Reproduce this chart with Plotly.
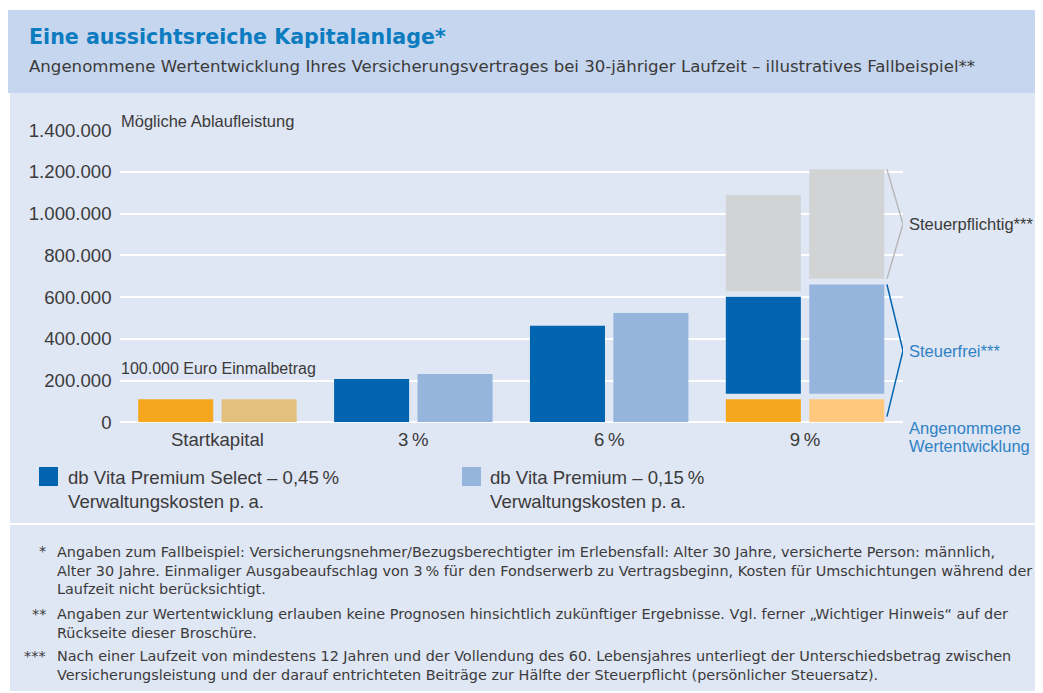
import plotly.graph_objects as go

# page is rendered with an 8px body margin -> figure is shifted by 8px
W, H = 1043, 693
OFF = 8
FW, FH = W - OFF, H - OFF

# ---------------- data ----------------
categories = ["Startkapital", "3\u2009%", "6\u2009%", "9\u2009%"]
einmalbetrag = [110000, 0, 0, 110000]            # orange start-capital segment
select_steuerfrei = [0, 207000, 462000, 601000]   # top of blue segment
select_ablauf = [0, 207000, 462000, 1088000]      # total (top of grey segment)
premium_steuerfrei = [0, 231000, 523000, 660000]
premium_ablauf = [0, 231000, 523000, 1212000]
y_ticks = [0, 200000, 400000, 600000, 800000, 1000000, 1200000, 1400000]

series_names = [
    "db Vita Premium Select \u2013 0,45\u2009%<br>Verwaltungskosten p.\u2009a.",
    "db Vita Premium \u2013 0,15\u2009%<br>Verwaltungskosten p.\u2009a.",
]

# ---------------- style ----------------
FONT = "Liberation Sans"
WIDE = "DejaVu Sans"
TXT = "#3b3b3b"
DARK_BLUE = "#0064B0"
LIGHT_BLUE = "#96B5DD"
ORANGE = "#F6A71E"
PREM_ORANGE = ["#E3C07D", None, None, "#FFC87C"]
GREY = "#D2D3D5"
BAND_HEAD = "#C6D6EE"
BAND = "#DFE6F4"
TITLE_BLUE = "#0C7CC0"
NOTE_BLUE = "#2F82C4"
SEG_GAP = 27000
BW = 0.383
OFF_SEL = -0.4045
OFF_PREM = 0.0215


def px(x):
    return (x - OFF) / FW


def py(y):
    return 1 - (y - OFF) / FH


fig = go.Figure()


def add_series(start, taxfree, total, offset, orange_colors, blue, name):
    xs = [c for c, v in zip(categories, start) if v > 0]
    ys = [v for v in start if v > 0]
    cols = [orange_colors[i] for i, v in enumerate(start) if v > 0]
    fig.add_bar(x=xs, y=ys, base=[0] * len(xs), offset=offset, width=BW,
                marker=dict(color=cols, line=dict(width=0)), name=name + " start")
    bases = [(s + SEG_GAP) if s > 0 else 0 for s in start]
    fig.add_bar(x=categories[1:], y=[t - b for t, b in zip(taxfree[1:], bases[1:])],
                base=bases[1:], offset=offset, width=BW,
                marker=dict(color=blue, line=dict(width=0)), name=name)
    gx = [c for c, t, a in zip(categories, taxfree, total) if a > t]
    gb = [t + SEG_GAP for t, a in zip(taxfree, total) if a > t]
    gy = [a - (t + SEG_GAP) for t, a in zip(taxfree, total) if a > t]
    fig.add_bar(x=gx, y=gy, base=gb, offset=offset, width=BW,
                marker=dict(color=GREY, line=dict(width=0)), name=name + " steuerpflichtig")


add_series(einmalbetrag, select_steuerfrei, select_ablauf, OFF_SEL,
           [ORANGE] * 4, DARK_BLUE, "Select")
add_series(einmalbetrag, premium_steuerfrei, premium_ablauf, OFF_PREM,
           PREM_ORANGE, LIGHT_BLUE, "Premium")

shapes = [
    dict(type="rect", xref="paper", yref="paper", x0=px(8), x1=1, y0=py(93), y1=py(10),
         fillcolor=BAND_HEAD, line=dict(width=0), layer="below"),
    dict(type="rect", xref="paper", yref="paper", x0=px(10), x1=1, y0=py(523), y1=py(93),
         fillcolor=BAND, line=dict(width=0), layer="below"),
    dict(type="rect", xref="paper", yref="paper", x0=px(10), x1=1, y0=py(691), y1=py(525),
         fillcolor=BAND, line=dict(width=0), layer="below"),
    # legend squares
    dict(type="rect", xref="paper", yref="paper", x0=px(39), x1=px(58), y0=py(486), y1=py(467),
         fillcolor=DARK_BLUE, line=dict(width=0)),
    dict(type="rect", xref="paper", yref="paper", x0=px(462), x1=px(481), y0=py(486), y1=py(467),
         fillcolor=LIGHT_BLUE, line=dict(width=0)),
]

# brackets next to the 9 % premium bar
i9 = 3
bx0, bx1 = i9 + 0.418, i9 + 0.5
g_top = premium_ablauf[i9]
g_bot = premium_steuerfrei[i9] + SEG_GAP
g_mid = (g_top + g_bot) / 2
b_top = premium_steuerfrei[i9]
b_bot = SEG_GAP
b_mid = (b_top + b_bot) / 2
shapes.append(dict(type="path", xref="x", yref="y",
                   path=f"M {bx0},{g_top} L {bx1},{g_mid} L {bx0},{g_bot}",
                   line=dict(color="#B9B9B9", width=1.5)))
shapes.append(dict(type="path", xref="x", yref="y",
                   path=f"M {bx0},{b_top} L {bx1},{b_mid} L {bx0},{b_bot}",
                   line=dict(color=DARK_BLUE, width=1.5)))

ann = []


def text(x, y, s, size, color=TXT, xanchor="left", yanchor="middle", yref="paper",
         family=FONT):
    ann.append(dict(x=x, y=y, xref="paper", yref=yref, text=s, showarrow=False,
                    xanchor=xanchor, yanchor=yanchor, align="left",
                    font=dict(family=family, size=size, color=color)))


text(px(27), py(37), "<b>Eine aussichtsreiche Kapitalanlage*</b>", 20.6, TITLE_BLUE, family=WIDE)
text(px(27), py(67), "Angenommene Wertentwicklung Ihres Versicherungsvertrages bei 30-jähriger "
     "Laufzeit \u2013 illustratives Fallbeispiel**", 16.6, family=WIDE)
text(px(119), py(121), "Mögliche Ablaufleistung", 16.5)
text(px(119), py(369), "100.000 Euro Einmalbetrag", 16)
text(px(907), g_mid, "Steuerpflichtig***", 16.5, yref="y")
text(px(907), b_mid, "Steuerfrei***", 16.5, NOTE_BLUE, yref="y")
text(px(907), py(428), "Angenommene", 16.5, NOTE_BLUE)
text(px(907), py(446), "Wertentwicklung", 16.5, NOTE_BLUE)
text(px(66), py(489), series_names[0], 18.6)
text(px(488), py(489), series_names[1], 18.6)

notes = [
    ("*", 551, 570,
     "Angaben zum Fallbeispiel: Versicherungsnehmer/Bezugsberechtigter im Erlebensfall: Alter 30 Jahre, "
     "versicherte Person: männlich,<br>Alter 30 Jahre. Einmaliger Ausgabeaufschlag von 3\u2009% für den "
     "Fondserwerb zu Vertragsbeginn, Kosten für Umschichtungen während der<br>Laufzeit nicht berücksichtigt."),
    ("**", 614, 623,
     "Angaben zur Wertentwicklung erlauben keine Prognosen hinsichtlich zukünftiger Ergebnisse. "
     "Vgl. ferner \u201eWichtiger Hinweis\u201c auf der<br>Rückseite dieser Broschüre."),
    ("***", 656, 665.5,
     "Nach einer Laufzeit von mindestens 12 Jahren und der Vollendung des 60. Lebensjahres unterliegt "
     "der Unterschiedsbetrag zwischen<br>Versicherungsleistung und der darauf entrichteten Beiträge zur "
     "Hälfte der Steuerpflicht (persönlicher Steuersatz)."),
]
for mark, y_first, y_mid, body in notes:
    text(px(48), py(y_first), mark, 14.4, xanchor="right", family=WIDE)
    text(px(55), py(y_mid), body, 14.4, family=WIDE)

fig.update_layout(
    width=FW, height=FH,
    margin=dict(l=0, r=0, t=0, b=0, autoexpand=False),
    paper_bgcolor="white", plot_bgcolor="rgba(0,0,0,0)",
    barmode="overlay", showlegend=False, hovermode=False,
    separators=",.",
    font=dict(family=FONT, color=TXT),
    shapes=shapes, annotations=ann,
    xaxis=dict(domain=[px(119.5), px(903)], type="category", categoryorder="array",
               categoryarray=categories, range=[-0.5, 3.5], showgrid=False, showline=False,
               zeroline=False, ticks="", tickfont=dict(family=FONT, size=18.6, color=TXT),
               ticklabelstandoff=4, fixedrange=True, automargin=False),
    yaxis=dict(domain=[py(422.3), py(130)], range=[0, 1400000], tickvals=y_ticks,
               tickformat=",d", showgrid=True, gridcolor="white", gridwidth=1.5,
               zeroline=True, zerolinecolor="white", zerolinewidth=1.5, showline=False,
               ticks="", ticklabelstandoff=7, tickfont=dict(family=FONT, size=18.6, color=TXT),
               fixedrange=True, automargin=False),
)

fig.write_html("out.html")
